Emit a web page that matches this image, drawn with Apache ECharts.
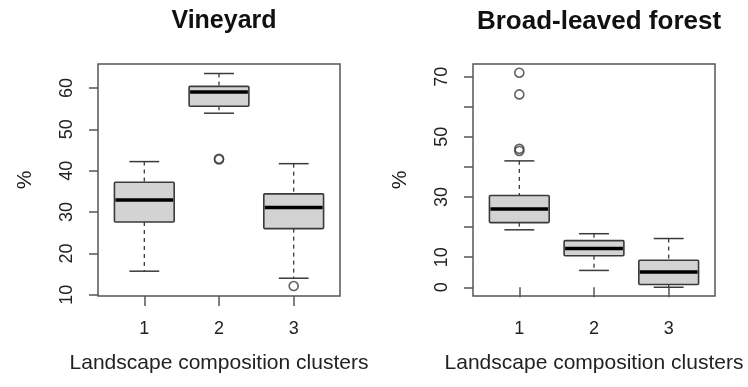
<!DOCTYPE html>
<html>
<head>
<meta charset="utf-8">
<script src="https://cdn.jsdelivr.net/npm/echarts@6/dist/echarts.min.js"></script>
<style>
  html, body { margin: 0; padding: 0; background: #fff; }
  #chart { width: 748px; height: 387px; }
</style>
</head>
<body>
<div id="chart"></div>
<script>
// Cluster ids on the x axis
const clusters = [1, 2, 3];

// Box statistics per cluster: [lower whisker, Q1, median, Q3, upper whisker]
const vineyardStats = [
  [15.7, 27.6, 32.9, 37.2, 42.2],
  [53.9, 55.6, 59.0, 60.4, 63.5],
  [14.0, 26.0, 31.1, 34.4, 41.7]
];
const forestStats = [
  [19.1, 21.5, 26.0, 30.5, 42.0],
  [5.6, 10.5, 12.9, 15.5, 17.8],
  [0.0, 0.9, 5.1, 9.0, 16.2]
];

// Outliers: [cluster, value]
const vineyardOutliers = [[2, 42.7], [2, 42.9], [3, 12.1]];
const forestOutliers = [[1, 71.3], [1, 64.1], [1, 46.0], [1, 45.3]];

// Tick marks and tick labels of the value axes
const vineyardTicks = [10, 20, 30, 40, 50, 60];
const vineyardTickLabels = [10, 20, 30, 40, 50, 60];
const forestTicks = [0, 10, 20, 30, 40, 50, 60, 70];
const forestTickLabels = [0, 10, 30, 50, 70];

const panelTitles = ['Vineyard', 'Broad-leaved forest'];
const xTitle = 'Landscape composition clusters';
const yTitle = '%';

const FONT = '"Liberation Sans", Arial, Helvetica, sans-serif';
const INK = '#222';
const FRAME = '#555';
const BOX_LINE = '#3a3a3a';

function boxRows(stats) {
  return stats.map((s, i) => [clusters[i]].concat(s));
}

// Draws one R-style box: dashed whiskers, staples, filled box and a heavy median bar
function renderBox(params, api) {
  const x = api.value(0);
  const lo = api.coord([x, api.value(1)]);
  const q1 = api.coord([x, api.value(2)]);
  const med = api.coord([x, api.value(3)]);
  const q3 = api.coord([x, api.value(4)]);
  const hi = api.coord([x, api.value(5)]);
  const cx = lo[0];
  const bw = api.size([0.8, 0])[0];
  const sw = bw * 0.5;
  const whisk = { stroke: BOX_LINE, lineWidth: 1.3, lineDash: [4, 4] };
  const solid = { stroke: BOX_LINE, lineWidth: 1.5 };
  return {
    type: 'group',
    children: [
      { type: 'line', shape: { x1: cx, y1: hi[1], x2: cx, y2: q3[1] }, style: whisk },
      { type: 'line', shape: { x1: cx, y1: q1[1], x2: cx, y2: lo[1] }, style: whisk },
      { type: 'line', shape: { x1: cx - sw / 2, y1: hi[1], x2: cx + sw / 2, y2: hi[1] }, style: solid },
      { type: 'line', shape: { x1: cx - sw / 2, y1: lo[1], x2: cx + sw / 2, y2: lo[1] }, style: solid },
      { type: 'rect', shape: { x: cx - bw / 2, y: q3[1], width: bw, height: q1[1] - q3[1], r: 1 },
        style: { fill: '#d3d3d3', stroke: BOX_LINE, lineWidth: 1.6 } },
      { type: 'line', shape: { x1: cx - bw / 2 + 1, y1: med[1], x2: cx + bw / 2 - 1, y2: med[1] },
        style: { stroke: '#000', lineWidth: 3.5 } }
    ]
  };
}

function xAxisFor(gridIndex) {
  return {
    type: 'value', gridIndex: gridIndex, min: 0.38, max: 3.62,
    name: xTitle, nameLocation: 'middle', nameGap: 57,
    nameTextStyle: { fontFamily: FONT, fontSize: 21, color: INK },
    axisLine: { show: false },
    splitLine: { show: false },
    axisTick: { show: true, inside: false, length: 10, customValues: clusters,
      lineStyle: { color: FRAME, width: 1.5 } },
    axisLabel: { customValues: clusters, margin: 24, fontFamily: FONT, fontSize: 18, color: INK }
  };
}

function yAxisFor(gridIndex, min, max, ticks, labels) {
  return {
    type: 'value', gridIndex: gridIndex, min: min, max: max,
    name: yTitle, nameLocation: 'middle', nameGap: 62, nameRotate: 90,
    nameTextStyle: { fontFamily: FONT, fontSize: 21, color: INK },
    axisLine: { show: false },
    splitLine: { show: false },
    axisTick: { show: true, inside: false, length: 9, customValues: ticks,
      lineStyle: { color: FRAME, width: 1.5 } },
    axisLabel: { customValues: labels, rotate: 90, margin: 22, fontFamily: FONT, fontSize: 18, color: INK }
  };
}

function outlierSeries(idx, data) {
  return {
    type: 'scatter', xAxisIndex: idx, yAxisIndex: idx, data: data,
    symbol: 'circle', symbolSize: 9, silent: true,
    itemStyle: { color: 'rgba(0,0,0,0)', borderColor: BOX_LINE, borderWidth: 1.6 }
  };
}

const chart = echarts.init(document.getElementById('chart'), null, { renderer: 'canvas' });
chart.setOption({
  animation: false,
  backgroundColor: '#fff',
  title: [
    { text: panelTitles[0], left: 219, top: 4, textAlign: 'center',
      textStyle: { fontFamily: FONT, fontSize: 25, fontWeight: 'bold', color: '#111' } },
    { text: panelTitles[1], left: 594, top: 4, textAlign: 'center',
      textStyle: { fontFamily: FONT, fontSize: 26, fontWeight: 'bold', color: '#111' } }
  ],
  grid: [
    { left: 98, top: 64, width: 242, height: 232, show: true, borderColor: FRAME, borderWidth: 1.5 },
    { left: 473, top: 64, width: 242, height: 232, show: true, borderColor: FRAME, borderWidth: 1.5 }
  ],
  xAxis: [xAxisFor(0), xAxisFor(1)],
  yAxis: [
    yAxisFor(0, 9.7, 65.8, vineyardTicks, vineyardTickLabels),
    yAxisFor(1, -2.9, 74.2, forestTicks, forestTickLabels)
  ],
  series: [
    { type: 'custom', xAxisIndex: 0, yAxisIndex: 0, data: boxRows(vineyardStats),
      encode: { x: 0, y: [1, 2, 3, 4, 5] }, renderItem: renderBox, silent: true },
    { type: 'custom', xAxisIndex: 1, yAxisIndex: 1, data: boxRows(forestStats),
      encode: { x: 0, y: [1, 2, 3, 4, 5] }, renderItem: renderBox, silent: true },
    outlierSeries(0, vineyardOutliers),
    outlierSeries(1, forestOutliers)
  ]
});
</script>
</body>
</html>
